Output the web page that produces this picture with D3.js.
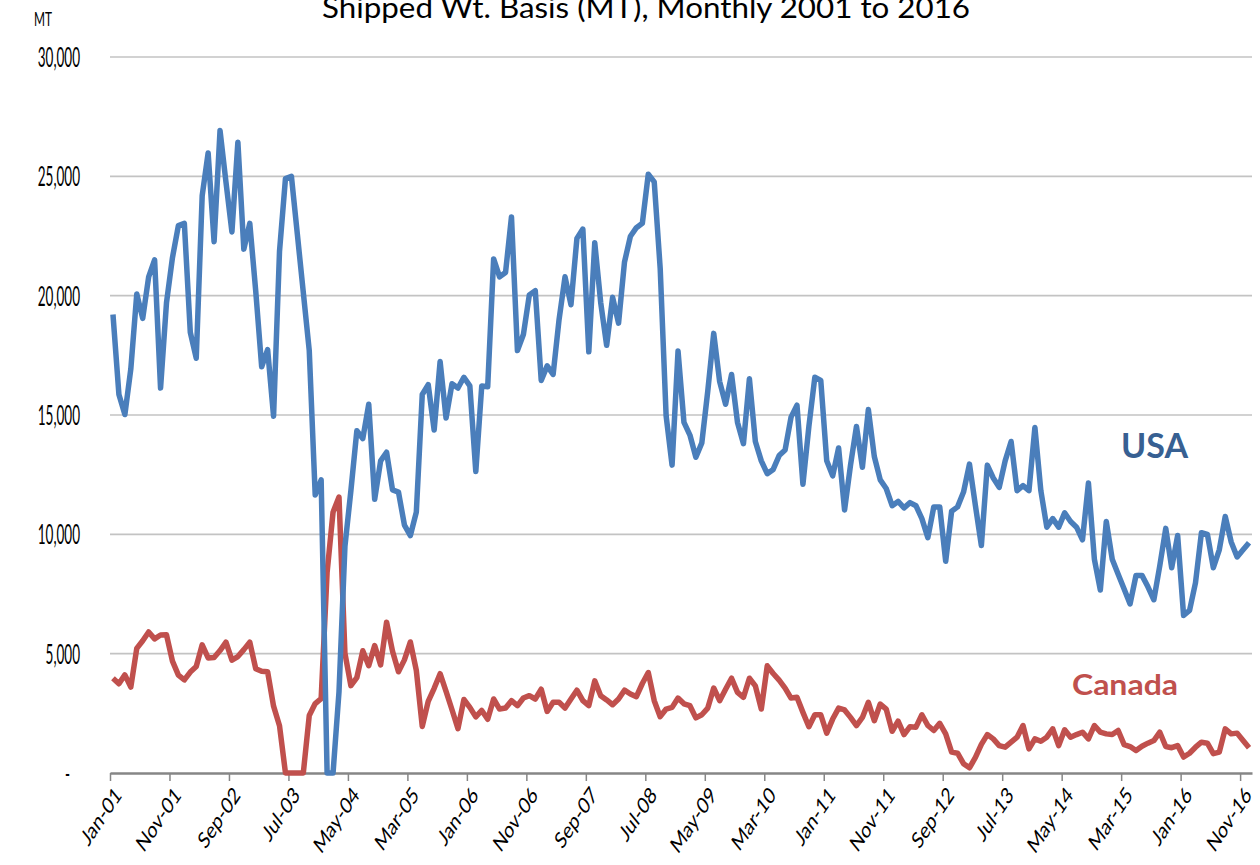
<!DOCTYPE html>
<html>
<head>
<meta charset="utf-8">
<script src="https://cdn.jsdelivr.net/npm/d3@7"></script>
<style>
  body { margin: 0; background: #fff; }
  svg { display: block; font-family: "Lato", "Open Sans", sans-serif; }
</style>
</head>
<body>
<svg id="chart"></svg>
<script>
// Monthly shipped weight (MT), Jan-01 .. Dec-16, one row per year
const usaValues = [
    19210, 15860, 15020, 16930, 20070, 19050, 20790, 21500, 16130, 19710, 21590, 22940,
    23030, 18460, 17380, 24190, 25980, 22260, 26920, 24750, 22670, 26430, 21950, 23030,
    20200, 17020, 17740, 14950, 21860, 24910, 25000, 22570, 20130, 17700, 11650, 12280,
    0, 0, 3400, 9500, 11830, 14340, 14010, 15450, 11470, 13080, 13440, 11860,
    11770, 10390, 9950, 10930, 15860, 16270, 14370, 17240, 14870, 16310, 16130, 16580,
    16220, 12630, 16220, 16180, 21540, 20790, 20970, 23300, 17700, 18370, 20030, 20210,
    16450, 17060, 16700, 19000, 20790, 19620, 22400, 22790, 17650, 22220, 19710, 17920,
    19930, 18850, 21410, 22490, 22850, 23030, 25090, 24770, 21150, 14960, 12900, 17680,
    14690, 14160, 13230, 13830, 16000, 18420, 16400, 15450, 16700, 14690, 13800, 16520,
    13890, 13080, 12540, 12720, 13300, 13530, 14910, 15410, 12100, 14520, 16580, 16450,
    13080, 12450, 13620, 11020, 12900, 14520, 12810, 15230, 13260, 12280, 11920, 11200,
    11380, 11110, 11330, 11200, 10660, 9860, 11150, 11150, 8870, 10970, 11150, 11770,
    12940, 11200, 9530, 12900, 12360, 11970, 13080, 13890, 11830, 12040, 11830, 14480,
    11830, 10300, 10660, 10300, 10900, 10540, 10300, 9770, 12150, 8960, 7670, 10540,
    8960, 8330, 7710, 7080, 8280, 8280, 7800, 7260, 8690, 10250, 8600, 9950,
    6600, 6810, 7970, 10070, 10000, 8600, 9350, 10750, 9680, 9050, 9350, 9650
];

const canadaValues = [
    3970, 3740, 4110, 3600, 5220, 5540, 5910, 5620, 5780, 5790, 4690, 4100,
    3900, 4230, 4460, 5370, 4820, 4840, 5130, 5480, 4730, 4880, 5170, 5480,
    4370, 4260, 4240, 2800, 1980, 0, 0, 0, 0, 2410, 2910, 3120,
    8400, 10930, 11560, 5020, 3660, 4000, 5120, 4500, 5340, 4530, 6320, 5100,
    4240, 4740, 5490, 4300, 1950, 3000, 3550, 4160, 3420, 2650, 1860, 3080,
    2750, 2350, 2620, 2250, 3100, 2680, 2720, 3030, 2820, 3140, 3240, 3100,
    3510, 2580, 2960, 2960, 2720, 3100, 3470, 3030, 2820, 3860, 3240, 3060,
    2860, 3100, 3470, 3310, 3200, 3750, 4210, 3030, 2360, 2680, 2750, 3140,
    2900, 2820, 2310, 2440, 2720, 3560, 3030, 3510, 3970, 3380, 3170, 3970,
    3650, 2680, 4490, 4170, 3890, 3560, 3140, 3170, 2540, 1940, 2440, 2440,
    1670, 2260, 2720, 2640, 2330, 1990, 2330, 2960, 2190, 2890, 2680, 1750,
    2170, 1610, 1940, 1920, 2440, 1990, 1780, 2080, 1640, 875, 830, 390,
    220, 650, 1200, 1610, 1430, 1150, 1080, 1290, 1500, 1990, 1010, 1430,
    1330, 1500, 1850, 1150, 1810, 1500, 1610, 1710, 1430, 1990, 1710, 1640,
    1610, 1780, 1190, 1110, 940, 1120, 1250, 1360, 1710, 1110, 1060, 1150,
    670, 830, 1080, 1290, 1250, 810, 875, 1850, 1640, 1670, 1360, 1060
];

const xTickLabels = ["Jan-01", "Nov-01", "Sep-02", "Jul-03", "May-04", "Mar-05", "Jan-06",
    "Nov-06", "Sep-07", "Jul-08", "May-09", "Mar-10", "Jan-11", "Nov-11", "Sep-12",
    "Jul-13", "May-14", "Mar-15", "Jan-16", "Nov-16"];
const yTicks = [0, 5000, 10000, 15000, 20000, 25000, 30000];

const width = 1260;
const height = 865;
const plot = { left: 110, right: 1252, top: 57, bottom: 773 };
const squeeze = 0.74; // the original picture is narrow, text looks compressed

const svg = d3.select("#chart")
    .attr("width", width)
    .attr("height", height);

// index scale, one band per month
const xScale = d3.scaleLinear()
    .domain([0, usaValues.length])
    .range([plot.left, plot.right]);

const yScale = d3.scaleLinear()
    .domain([0, 30000])
    .range([plot.bottom, plot.top]);

// horizontal gridlines
svg.append("g")
    .selectAll("line")
    .data(yTicks.filter(d => d > 0))
    .join("line")
    .attr("x1", plot.left)
    .attr("x2", plot.right)
    .attr("y1", d => yScale(d))
    .attr("y2", d => yScale(d))
    .attr("stroke", "#c3c3c3")
    .attr("stroke-width", 1.6);

// y axis labels
const yAxis = d3.axisLeft(yScale)
    .tickValues(yTicks)
    .tickSize(0)
    .tickPadding(0)
    .tickFormat(d => d === 0 ? "-" : d3.format(",")(d));

const yAxisG = svg.append("g")
    .attr("transform", "translate(80,0)")
    .call(yAxis);
yAxisG.select(".domain").remove();
yAxisG.selectAll("text")
    .attr("x", d => d === 0 ? -10 / 0.52 : 0)
    .attr("dy", "0.36em")
    .attr("transform", "scale(0.52,1)")
    .style("font-size", "26px")
    .style("font-family", "Lato, sans-serif")
    .attr("fill", "#000");

// x axis, ticks on month boundaries every 10 months
const xAxis = d3.axisBottom(xScale)
    .tickValues(d3.range(0, usaValues.length, 10))
    .tickFormat((d, i) => xTickLabels[i])
    .tickSize(8)
    .tickSizeOuter(0);

const xAxisG = svg.append("g")
    .attr("transform", `translate(0,${plot.bottom})`)
    .call(xAxis);
xAxisG.select(".domain")
    .attr("stroke", "#868686")
    .attr("stroke-width", 2.5);
xAxisG.selectAll(".tick line")
    .attr("stroke", "#868686")
    .attr("stroke-width", 1.5);
xAxisG.selectAll("text")
    .attr("x", 0)
    .attr("y", 0)
    .attr("dy", 0)
    .attr("text-anchor", "end")
    .attr("transform", `translate(12,23) scale(${squeeze},1) rotate(-48)`)
    .style("font-size", "23px")
    .style("font-family", "Lato, sans-serif")
    .attr("fill", "#000");

// lines
const line = d3.line()
    .x((d, i) => xScale(i + 0.5))
    .y(d => yScale(d));

svg.append("path")
    .datum(canadaValues)
    .attr("d", line)
    .attr("fill", "none")
    .attr("stroke", "#c0504d")
    .attr("stroke-width", 5.5)
    .attr("stroke-linejoin", "round");

svg.append("path")
    .datum(usaValues)
    .attr("d", line)
    .attr("fill", "none")
    .attr("stroke", "#4a7ebb")
    .attr("stroke-width", 5.5)
    .attr("stroke-linejoin", "round");

// series labels
svg.append("text")
    .attr("x", 1121)
    .attr("y", 458)
    .attr("textLength", 67)
    .attr("lengthAdjust", "spacingAndGlyphs")
    .style("font-size", "34px")
    .style("font-weight", "bold")
    .attr("fill", "#376092")
    .text("USA");

svg.append("text")
    .attr("x", 1072)
    .attr("y", 695)
    .attr("textLength", 106)
    .attr("lengthAdjust", "spacingAndGlyphs")
    .style("font-size", "29px")
    .style("font-weight", "bold")
    .attr("fill", "#c0504d")
    .text("Canada");

// title (cut at the top edge in the original)
svg.append("text")
    .attr("x", 322)
    .attr("y", 18)
    .attr("textLength", 648)
    .attr("lengthAdjust", "spacingAndGlyphs")
    .style("font-size", "29px")
    .attr("fill", "#000")
    .text("Shipped Wt. Basis (MT), Monthly 2001 to 2016");

// unit label
svg.append("text")
    .attr("x", 34)
    .attr("y", 26)
    .attr("textLength", 18)
    .attr("lengthAdjust", "spacingAndGlyphs")
    .style("font-size", "19px")
    .attr("fill", "#000")
    .text("MT");
</script>
</body>
</html>
